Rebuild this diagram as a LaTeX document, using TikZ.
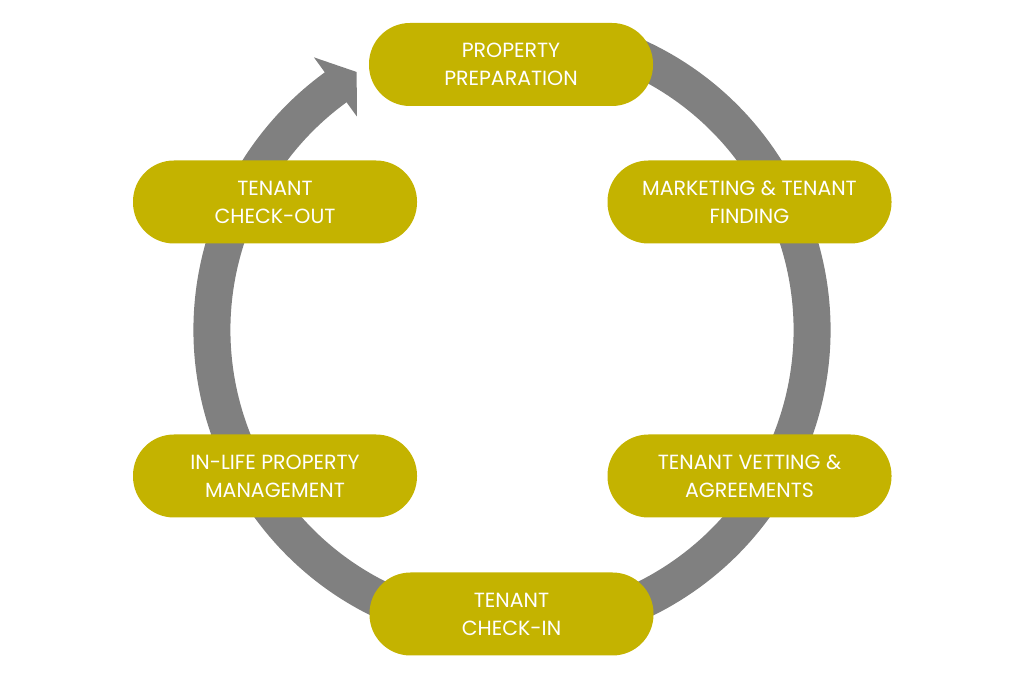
\documentclass[tikz,border=0pt]{standalone}
\usepackage{fontspec}
\setmainfont{Poppins}
\usetikzlibrary{calc}
\definecolor{ringgray}{RGB}{128,128,128}
\definecolor{boxolive}{RGB}{196,179,0}
\begin{document}
\begin{tikzpicture}[x=1pt,y=1pt,
  stagebox/.style={fill=boxolive, draw=none, rounded corners=41pt,
    minimum width=284pt, minimum height=83pt, text=white, align=center,
    font=\fontsize{20.5}{28}\selectfont, inner sep=0pt}]
\useasboundingbox (0,0) rectangle (1024,679);
\coordinate (c) at (512,349);
\draw[ringgray, line width=37pt] ($(c)+(70:300)$) arc[start angle=70, end angle=-234.5, radius=300];
\fill[ringgray] ($(c)+(126:337)$) -- ($(c)+(126:300)+(36:26)$) -- ($(c)+(126:264)$) -- cycle;
\node[stagebox] (prep) at (511,614.5) {PROPERTY\\PREPARATION};
\node[stagebox] (market) at (749.5,477) {MARKETING \& TENANT\\FINDING};
\node[stagebox] (vet) at (749.5,203) {TENANT VETTING \&\\AGREEMENTS};
\node[stagebox] (checkin) at (511.5,65) {TENANT\\CHECK-IN};
\node[stagebox] (inlife) at (275,203) {IN-LIFE PROPERTY\\MANAGEMENT};
\node[stagebox] (checkout) at (275,477) {TENANT\\CHECK-OUT};
\end{tikzpicture}
\end{document}
